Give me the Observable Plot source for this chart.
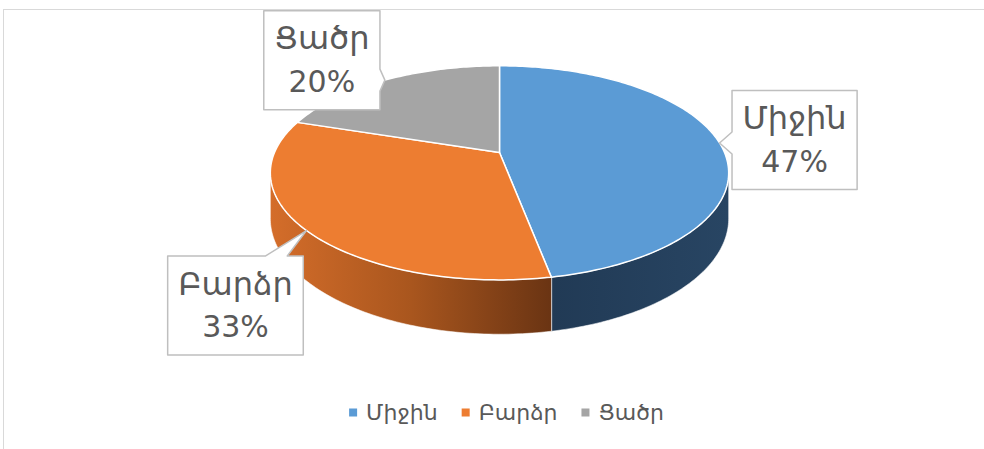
<!DOCTYPE html>
<html><head><meta charset="utf-8">
<script src="https://cdn.jsdelivr.net/npm/d3@7"></script>
<script src="https://cdn.jsdelivr.net/npm/@observablehq/plot@0.6"></script>
<style>
html,body{margin:0;padding:0;background:#fff;}
#wrap{position:relative;width:984px;height:449px;overflow:hidden;}
#border{position:absolute;left:3px;top:9px;width:2000px;height:2000px;border-left:1.5px solid #d9d9d9;border-top:1.5px solid #d9d9d9;}
#chart{position:absolute;left:0;top:0;}
</style></head><body>
<div id="wrap"><div id="border"></div><div id="chart"></div></div>
<script>
// ---- data ----
const categories = ["Միջին", "Բարձր", "Ցածր"];
const shares = [47, 33, 20];

// ---- styles / layout ----
const palette = ["#5b9bd5", "#ed7d31", "#a5a5a5"];
const wallFill = ["url(#wallBlue)", "url(#wallOrange)", "#7f7f7f"];
const FONT = '"DejaVu Sans", "Noto Sans", sans-serif';
const W = 984, H = 449;
const G = {cx: 499, cy: 152, A: 225, B: 103.2, k: 0.19, depth: 44};
const labelOffset = [[75, -3], [-71, 75], [-63, -20]]; // box centre relative to rim point
const nameFont = 32, pctFont = 30, legendFont = 22;

const rows = categories.map((c, i) => ({name: c, share: shares[i], color: palette[i], wall: wallFill[i]}));
const arcs = d3.pie().sort(null).value(d => d.share)(rows);

function proj(a, h = 0) {
  const u = Math.sin(a), v = Math.cos(a), w = 1 + G.k * v;
  return {x: G.cx + G.A * u / w, y: G.cy - G.B * v / w + h * G.depth / w};
}
function arcPts(a0, a1, h) {
  const n = Math.max(2, Math.ceil(Math.abs(a1 - a0) / (Math.PI / 180)));
  return d3.range(n + 1).map(i => proj(a0 + (a1 - a0) * i / n, h));
}
const visLo = Math.acos(-G.k), visHi = 2 * Math.PI - Math.acos(-G.k);

const marks = [];
// side walls
arcs.forEach(p => {
  const lo = Math.max(p.startAngle, visLo), hi = Math.min(p.endAngle, visHi);
  if (lo < hi) {
    const pts = [...arcPts(lo, hi, 0), ...arcPts(hi, lo, 1)];
    marks.push(Plot.line(pts, {x: "x", y: "y", fill: p.data.wall, stroke: "rgba(255,255,255,0.55)", strokeWidth: 1, curve: "linear-closed"}));
  }
});
// top faces
arcs.forEach(p => {
  const pts = [{x: G.cx, y: G.cy}, ...arcPts(p.startAngle, p.endAngle, 0)];
  marks.push(Plot.line(pts, {x: "x", y: "y", fill: p.data.color, stroke: "white", strokeWidth: 1.5, curve: "linear-closed"}));
});

// text measuring
const ctx = document.createElement("canvas").getContext("2d");
function tw(s, size) { ctx.font = `${size}px ${FONT}`; return ctx.measureText(s).width; }

function callout(bx, by, bw, bh, tip, half = 11, pad = 16) {
  const x0 = bx - bw / 2, x1 = bx + bw / 2, y0 = by - bh / 2, y1 = by + bh / 2;
  const out = {L: x0 - tip.x, R: tip.x - x1, T: y0 - tip.y, B: tip.y - y1};
  const m = Math.max(out.L, out.R, out.T, out.B);
  const cl = (v, a, b) => Math.max(a, Math.min(b, v));
  const P = [];
  P.push({x: x0, y: y0});
  if (m === out.T) { const c = cl(tip.x, x0 + half + pad, x1 - half - pad); P.push({x: c - half, y: y0}, tip, {x: c + half, y: y0}); }
  P.push({x: x1, y: y0});
  if (m === out.R) { const c = cl(tip.y, y0 + half + pad, y1 - half - pad); P.push({x: x1, y: c - half}, tip, {x: x1, y: c + half}); }
  P.push({x: x1, y: y1});
  if (m === out.B) { const c = cl(tip.x, x0 + half + pad, x1 - half - pad); P.push({x: c + half, y: y1}, tip, {x: c - half, y: y1}); }
  P.push({x: x0, y: y1});
  if (m === out.L) { const c = cl(tip.y, y0 + half + pad, y1 - half - pad); P.push({x: x0, y: c + half}, tip, {x: x0, y: c - half}); }
  return P;
}

const labels = arcs.map((p, i) => {
  const tip = proj((p.startAngle + p.endAngle) / 2, 0);
  const name = p.data.name, pct = Math.round(p.data.share) + "%";
  const bw = Math.max(tw(name, nameFont), tw(pct, pctFont)) + 21;
  const bx = tip.x + labelOffset[i][0], by = tip.y + labelOffset[i][1];
  return {tip, name, pct, bx, by, bw, bh: 99};
});
labels.forEach(l => {
  marks.push(Plot.line(callout(l.bx, l.by, l.bw, l.bh, l.tip), {x: "x", y: "y", fill: "white", stroke: "#bfbfbf", strokeWidth: 1.5, curve: "linear-closed"}));
});
marks.push(Plot.text(labels, {x: "bx", y: d => d.by - 21, text: "name", fontSize: nameFont, fill: "#595959", lineAnchor: "middle"}));
marks.push(Plot.text(labels, {x: "bx", y: d => d.by + 22, text: "pct", fontSize: pctFont, fill: "#595959", lineAnchor: "middle"}));

// legend
const sq = 8, gapIn = 9, gapOut = 24, legY = 412, legCx = 506;
const itemW = rows.map(r => sq + gapIn + tw(r.name, legendFont));
const totalW = d3.sum(itemW) + gapOut * (rows.length - 1);
let lx = legCx - totalW / 2;
const legend = rows.map((r, i) => { const o = {...r, sx: lx + sq / 2, tx: lx + sq + gapIn}; lx += itemW[i] + gapOut; return o; });
marks.push(Plot.dot(legend, {x: "sx", y: () => legY, symbol: "square", r: sq / 2 * 1.13, fill: "color", stroke: null}));
marks.push(Plot.text(legend, {x: "tx", y: () => legY, text: "name", textAnchor: "start", fontSize: legendFont, fill: "#595959", lineAnchor: "middle"}));

const svg = Plot.plot({
  width: W, height: H, margin: 0,
  x: {domain: [0, W], range: [0, W], axis: null},
  y: {domain: [0, H], range: [0, H], axis: null},
  color: {type: "identity"},
  style: {fontFamily: FONT, background: "transparent", overflow: "visible"},
  marks
});
svg.insertAdjacentHTML("afterbegin", `<defs>
<linearGradient id="wallOrange" x1="0" x2="1" y1="0" y2="0">
<stop offset="0" stop-color="#d46d2a"/><stop offset="0.5" stop-color="#a9561e"/><stop offset="1" stop-color="#6a3413"/></linearGradient>
<linearGradient id="wallBlue" x1="0" x2="1" y1="0" y2="0">
<stop offset="0" stop-color="#213a55"/><stop offset="1" stop-color="#284563"/></linearGradient>
</defs>`);
document.getElementById("chart").appendChild(svg);
</script>
</body></html>
